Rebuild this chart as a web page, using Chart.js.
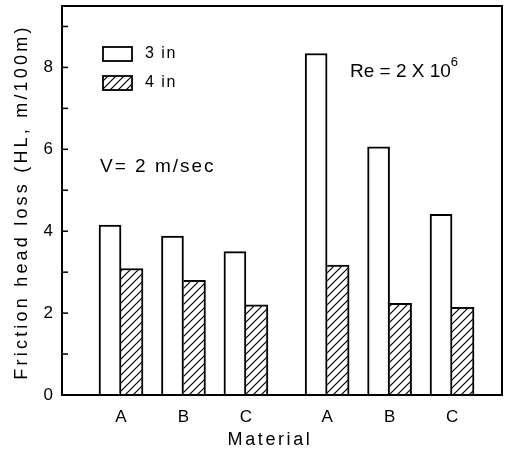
<!DOCTYPE html>
<html><head><meta charset="utf-8">
<script src="https://cdn.jsdelivr.net/npm/chart.js@4"></script>
<style>html,body{margin:0;padding:0;background:#fff;overflow:hidden}</style>
</head><body>
<canvas id="c" width="514" height="455"></canvas>
<script>
// ---- data ----
const categories = ['A', 'B', 'C', 'A', 'B', 'C'];
const series3in = [4.15, 3.88, 3.50, 8.34, 6.06, 4.41];
const series4in = [3.09, 2.80, 2.20, 3.17, 2.24, 2.14];
const seriesNames = ['3 in', '4 in'];
const yTickValues = [0, 1, 2, 3, 4, 5, 6, 7, 8, 9];
const yTickLabels = ['0', '', '2', '', '4', '', '6', '', '8', ''];
const yTitle = 'Friction head loss (HL, m/100m)';
const xTitle = 'Material';
const noteVelocity = 'V= 2 m/sec';
const noteRe = 'Re = 2 X 10';
const noteReExp = '6';

// ---- layout helpers ----
const groupGap = 0.3;
const pos = i => i + (i >= 3 ? groupGap : 0);
const FONT = '"Liberation Sans", Arial, sans-serif';

const canvas = document.getElementById('c');
const mainCtx = canvas.getContext('2d');
function makeHatch() {
  const s = 8;
  const c = document.createElement('canvas');
  c.width = s; c.height = s;
  const g = c.getContext('2d');
  g.fillStyle = '#fff'; g.fillRect(0, 0, s, s);
  g.strokeStyle = '#000'; g.lineWidth = 1.2;
  g.beginPath();
  g.moveTo(-1, s + 1); g.lineTo(s + 1, -1);
  g.moveTo(-2, 2); g.lineTo(2, -2);
  g.moveTo(s - 2, s + 2); g.lineTo(s + 2, s - 2);
  g.stroke();
  return mainCtx.createPattern(c, 'repeat');
}
const hatch = makeHatch();

function drawText(ctx, txt, x, y, font, spacing, align) {
  ctx.font = font;
  ctx.letterSpacing = spacing + 'px';
  ctx.textAlign = align || 'left';
  ctx.textBaseline = 'middle';
  ctx.fillText(txt, x, y);
}

const decor = {
  id: 'decor',
  afterDraw(chart) {
    const { ctx, chartArea: a, scales: { x, y } } = chart;
    ctx.save();
    ctx.fillStyle = '#000';
    ctx.strokeStyle = '#000';
    // frame
    ctx.lineWidth = 2;
    ctx.strokeRect(a.left, a.top, a.right - a.left, a.bottom - a.top);
    // inward y ticks
    ctx.lineWidth = 1.5;
    yTickValues.forEach(v => {
      const py = y.getPixelForValue(v);
      ctx.beginPath(); ctx.moveTo(a.left, py); ctx.lineTo(a.left + 6, py); ctx.stroke();
    });
    // legend
    const lx = a.left + 41, lw = 29, lh = 14;
    const rows = [{ y: 47, fill: '#fff' }, { y: 76, fill: hatch }];
    rows.forEach((r, i) => {
      ctx.fillStyle = r.fill;
      ctx.fillRect(lx, r.y, lw, lh);
      ctx.lineWidth = 1.8; ctx.strokeStyle = '#000';
      ctx.strokeRect(lx, r.y, lw, lh);
      ctx.fillStyle = '#000';
      drawText(ctx, seriesNames[i], lx + 42, r.y + lh / 2, '16px ' + FONT, 1.5);
    });
    // notes
    drawText(ctx, noteVelocity, a.left + 38, 167, '19px ' + FONT, 2);
    drawText(ctx, noteRe, 350, 72, '19px ' + FONT, 0);
    ctx.font = '19px ' + FONT; ctx.letterSpacing = '0px';
    const w = ctx.measureText(noteRe).width;
    drawText(ctx, noteReExp, 350 + w, 62, '13px ' + FONT, 0);
    // axis titles
    drawText(ctx, xTitle, 270, 440, '18px ' + FONT, 2.6, 'center');
    ctx.save();
    ctx.translate(22, 202);
    ctx.rotate(-Math.PI / 2);
    drawText(ctx, yTitle, 0, 0, '18px ' + FONT, 3.2, 'center');
    ctx.restore();
    ctx.restore();
  }
};

new Chart(canvas, {
  type: 'bar',
  data: {
    datasets: [
      {
        label: seriesNames[0],
        data: series3in.map((v, i) => ({ x: pos(i), y: v })),
        backgroundColor: '#fff',
        borderColor: '#000',
        borderWidth: { top: 2, left: 2, right: 2, bottom: 0 },
        borderSkipped: false
      },
      {
        label: seriesNames[1],
        data: series4in.map((v, i) => ({ x: pos(i), y: v })),
        backgroundColor: hatch,
        borderColor: '#000',
        borderWidth: { top: 2, left: 0, right: 2, bottom: 0 },
        borderSkipped: false
      }
    ]
  },
  options: {
    responsive: false,
    animation: false,
    devicePixelRatio: 1,
    barThickness: 22,
    layout: { padding: { top: 6, right: 12, left: 0, bottom: 0 } },
    plugins: { legend: { display: false }, tooltip: { enabled: false } },
    scales: {
      x: {
        type: 'linear',
        offset: false,
        min: -0.945,
        max: 6.10,
        grid: { display: false, drawTicks: false },
        border: { display: false },
        afterBuildTicks: s => { s.ticks = categories.map((c, i) => ({ value: pos(i) })); },
        afterFit: s => { s.height = 60; s.paddingLeft = 0; s.paddingRight = 0; },
        ticks: {
          autoSkip: false, maxRotation: 0, padding: 12,
          color: '#000', font: { family: FONT, size: 17 },
          callback: (v, i) => categories[i]
        }
      },
      y: {
        min: 0,
        max: 9.5,
        grid: { display: false, drawTicks: false },
        border: { display: false },
        afterBuildTicks: s => { s.ticks = yTickValues.map(v => ({ value: v })); },
        afterFit: s => { s.width = 62; s.paddingTop = 0; s.paddingBottom = 0; },
        ticks: {
          padding: 9, color: '#000', font: { family: FONT, size: 17 },
          callback: (v, i) => yTickLabels[i]
        }
      }
    }
  },
  plugins: [decor]
});
</script>
</body></html>
